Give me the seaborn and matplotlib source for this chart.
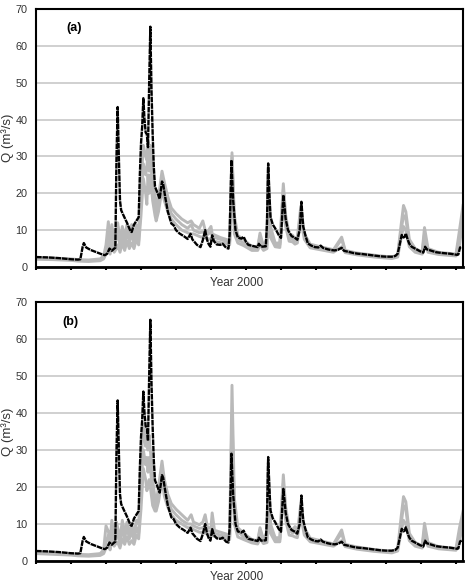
import pandas as pd
import seaborn as sns
import matplotlib.pyplot as plt
import numpy as np

# observed discharge (black), key days of year 2000
obs_days = [0, 10, 20, 30, 36, 38, 40, 41, 43, 47, 52, 56, 59, 61, 63, 65, 67, 68, 69, 70,
            71, 72, 73, 75, 78, 81, 82, 84, 86, 88, 89, 90, 91, 92, 93, 94, 95, 96, 97, 98,
            99, 100, 101, 102, 104, 106, 108, 109, 111, 113, 116, 118, 120, 123, 127, 130, 132.5, 134, 138, 141,
            143, 145, 146.5, 148, 149.5, 151, 152.5, 155, 158, 160, 163, 165, 166, 167.5, 169, 171, 173, 176, 178, 180,
            182, 186, 190, 191, 193, 197, 198, 199, 200, 201, 203, 205, 208, 210, 211, 212, 213, 214, 216, 219,
            222, 224, 226, 227.5, 229, 231, 233, 236, 239, 242, 244, 246, 250, 253, 256, 259, 262, 264, 268, 272,
            276, 280, 285, 290, 295, 300, 305, 308, 310, 312, 313.5, 315, 316, 317, 318.5, 320, 322, 326, 329, 332,
            333.5, 335, 338, 343, 348, 355, 361, 362, 363.5, 365]
obs_q = [2.7, 2.6, 2.4, 2.1, 2.0, 2.1, 5.5, 6.5, 5.3, 4.6, 4.0, 3.5, 3.2, 3.6, 5.0, 4.4, 5.0, 5.2, 30, 43.4,
         30, 18, 15.4, 14.0, 12, 9.7, 9.5, 11.5, 12.5, 13.5, 25, 33.5, 38, 45.8, 40, 36.5, 36, 32.5, 50, 65.2,
         48, 36, 27, 21.8, 20.2, 18.5, 23.2, 22.5, 18.5, 15, 11.8, 11.3, 10, 9.1, 8.3, 7.6, 9.0, 7.5, 6.0, 5.4,
         7.3, 10, 7.5, 6.2, 5.5, 8.6, 7, 6.1, 6.0, 6.3, 5.2, 5.0, 9, 29, 18, 10, 8, 7.7, 8.2, 6.8,
         6.0, 5.7, 5.4, 6.3, 5.5, 5.6, 12, 28.1, 20, 13.6, 11.5, 10.5, 8.7, 7.9, 14, 19.5, 16.5, 13, 10, 8.4,
         7.9, 7.4, 10, 17.7, 11, 8.5, 6.4, 5.8, 5.4, 5.3, 5.8, 5.2, 4.8, 4.6, 4.5, 4.7, 5.2, 4.4, 4.1, 3.8,
         3.6, 3.5, 3.3, 3.1, 2.9, 2.8, 2.8, 3.0, 3.6, 6.5, 8.7, 8.0, 8.2, 9.1, 7.5, 6.3, 5.5, 4.8, 4.3, 3.9,
         5.5, 4.8, 4.5, 4.0, 3.8, 3.6, 3.3, 3.4, 5.3, 5.5]

# simulated discharge (grey), three runs per panel
sim_days = [0, 15, 30, 36, 45, 55, 58, 60, 62, 63.5, 65, 67, 69, 70, 72, 74, 76, 78, 80, 82,
            84, 86, 88, 90, 92, 94, 95, 96, 97, 98, 100, 102, 103, 105, 108, 110, 113, 116, 120, 125,
            130, 133, 135, 140, 143, 145, 147, 150, 151, 153, 158, 163, 166, 168, 170, 173, 178, 185, 190, 192,
            195, 198, 199, 201, 205, 209, 212, 214, 217, 220, 222, 224, 227, 230, 235, 245, 255, 262, 265, 275,
            290, 305, 310, 313, 315, 317, 320, 325, 331, 333, 336, 345, 360, 363, 366]

sim_a1 = [2.3, 2.2, 2.0, 1.8, 1.7, 1.9, 2.6, 4.5, 8.5, 4.5, 9, 5, 8, 11, 5, 9, 6, 10, 6.5, 9.5,
          6, 10, 7, 18, 28, 25, 27, 31, 26, 30, 22, 18, 14, 17, 24, 21, 17, 14.5, 13, 11.5,
          10.5, 11.5, 10, 9.3, 9.5, 9, 8.8, 9.5, 8.5, 8, 7.5, 7, 6.8, 30, 12, 7.5, 6.5, 5.0, 4.9, 8.5,
          5, 6, 25, 10, 6.0, 6.0, 21, 13, 8, 7.5, 7, 7.2, 15, 8.5, 5.8, 5.0, 4.4, 7.5, 4.3, 3.6,
          3.0, 2.5, 3.0, 10, 14, 13, 6.5, 4.5, 3.8, 9, 4.5, 3.7, 3.2, 8, 15]
sim_a2 = [2.5, 2.4, 2.2, 2.0, 1.9, 2.2, 3.0, 6.0, 12.3, 6, 11.5, 6.5, 10, 12, 7, 11, 8, 11.5, 8, 11.5,
          7.5, 11.5, 9, 22, 33, 30, 29, 34, 30, 33, 26, 20, 16, 19, 26, 23, 19, 16, 14.5, 13,
          12, 12.5, 11.5, 10.5, 12.5, 10, 9.5, 11, 9, 8.7, 8, 7.5, 7.2, 31, 14, 8.5, 7.5, 5.5, 5.3, 9.2,
          5.5, 8, 27, 11, 6.5, 6.5, 22.6, 14, 9, 8.6, 7.5, 8, 16.5, 9, 6.2, 5.4, 4.7, 8.1, 4.5, 3.8,
          3.2, 2.7, 3.3, 11.5, 16.7, 15, 7.5, 5, 4.1, 10.7, 5, 4, 3.5, 10, 16.7]
sim_a3 = [2.1, 2.0, 1.8, 1.6, 1.5, 1.7, 2.2, 3.5, 5.5, 3.5, 6, 4, 5, 6, 4, 6.5, 4.5, 7, 5, 6.5,
          5, 7.5, 6, 14, 24, 20, 17, 25, 20, 25, 18, 14, 12.5, 15, 21, 18, 15, 13, 11.5, 10,
          9.3, 9, 9, 8.3, 8, 8, 7.7, 7.5, 7.3, 7, 6.6, 6.3, 6, 24, 9, 6.5, 5.8, 4.5, 4.5, 6,
          4.5, 5, 22, 8, 5.5, 5.3, 17, 11, 7, 6.8, 6.2, 6.5, 13, 7.5, 5.2, 4.6, 4.0, 5.5, 3.9, 3.3,
          2.7, 2.3, 2.7, 8, 11, 10, 5.5, 4, 3.5, 7, 4, 3.4, 3.0, 6, 13]

sim_b1 = [2.2, 2.0, 1.8, 1.6, 1.5, 1.8, 2.5, 5, 7, 4, 8.5, 5, 9, 7, 4.5, 9, 6, 9.5, 6, 8,
          5.5, 9, 7.5, 20, 30, 26, 28, 24, 28, 25, 19, 15, 14, 18, 25, 20, 16.5, 14, 12.5, 11,
          10, 10, 9.5, 8.8, 9, 9.5, 8.2, 8, 10, 7.5, 7.0, 6.7, 6.5, 40, 14, 8, 6.5, 5.3, 5.0, 8.5,
          5.2, 6, 24, 9, 5.8, 5.8, 21, 13, 8.5, 7.5, 8, 7, 14, 8, 5.8, 5.0, 4.3, 7.5, 4.2, 3.5,
          2.9, 2.4, 3.0, 10, 15, 14, 6.5, 4.5, 3.8, 8.5, 4.5, 3.6, 3.1, 7, 12]
sim_b2 = [2.4, 2.2, 2.0, 1.8, 1.7, 2.0, 3.0, 9.5, 8, 5.5, 11, 6, 10.5, 9, 6, 11, 7.5, 10.5, 7, 10,
          7, 11, 10, 26, 37, 31, 35, 30, 34, 30, 22, 17, 15.5, 20, 27, 22, 18, 15.5, 14, 12.5,
          11, 12.5, 10.5, 9.8, 10.5, 12.5, 9, 9, 13, 8.3, 7.8, 7.3, 7, 47.5, 17, 9, 7.5, 5.8, 5.5, 9,
          5.7, 8, 26.5, 10, 6.3, 6.3, 23.3, 14.5, 9, 8.5, 9.3, 7.5, 15.5, 9, 6.2, 5.4, 4.6, 8.4, 4.5, 3.8,
          3.1, 2.6, 3.3, 12, 17.4, 16, 7.5, 5, 4.1, 10.2, 5, 3.9, 3.4, 9, 13.4]
sim_b3 = [2.0, 1.8, 1.6, 1.4, 1.3, 1.5, 2.0, 3.5, 4.5, 3, 5.5, 4, 5, 5, 3.5, 6, 4.5, 6.5, 4.5, 5.5,
          4.5, 7, 6, 14, 25, 22, 19, 20, 22, 20, 15, 13.5, 13.5, 16, 22, 17.5, 14.5, 12.5, 11, 10,
          9, 9, 8.5, 7.8, 7.7, 7.5, 7.3, 7, 7, 6.6, 6.3, 6.0, 5.8, 30, 10, 6.5, 5.8, 4.9, 4.6, 6,
          4.7, 5, 20, 7.5, 5.2, 5.2, 18, 11, 7, 6.8, 6.5, 6.3, 12, 7, 5.2, 4.6, 4.0, 5.5, 3.9, 3.2,
          2.6, 2.2, 2.7, 8, 11, 10, 5.5, 4, 3.5, 6.5, 4, 3.3, 2.9, 5.5, 10]

panel_labels = ["(a)", "(b)"]
y_ticks = list(range(0, 71, 10))
x_ticks = list(range(0, 361, 30))

plt.rcParams["font.family"] = ["Liberation Sans", "DejaVu Sans"]

obs = pd.DataFrame({"day": obs_days, "Q": obs_q})


def sim_frame(runs):
    parts = []
    for k, vals in enumerate(runs):
        parts.append(pd.DataFrame({"day": sim_days, "Q": vals, "run": k}))
    return pd.concat(parts, ignore_index=True)


sims = [sim_frame([sim_a1, sim_a2, sim_a3]), sim_frame([sim_b1, sim_b2, sim_b3])]

fig = plt.figure(figsize=(4.69, 5.87), dpi=100)
boxes = [[36/469, 1-267/587, 427/469, 258/587], [36/469, 1-561/587, 427/469, 259/587]]
label_pos = [(0.07, 0.926), (0.062, 0.923)]
year_y = [1-283/587, 1-577/587]

for i in range(2):
    ax = fig.add_axes(boxes[i])
    ax.grid(axis="y", color="#c8c8c8", linewidth=1.2)
    ax.set_axisbelow(True)
    sns.lineplot(data=sims[i], x="day", y="Q", units="run", estimator=None,
                 color="#b9b9b9", linewidth=2.1, ax=ax, legend=False)
    sns.lineplot(data=obs, x="day", y="Q", color="black", linewidth=1.7, ax=ax, legend=False)
    ax.lines[-1].set_linestyle((0, (2.4, 0.35)))

    ax.set_xlim(0, 366)
    ax.set_ylim(0, 70)
    ax.set_xticks(x_ticks)
    ax.set_xticklabels([])
    ax.set_yticks(y_ticks)
    ax.tick_params(axis="x", direction="out", length=2.5, width=1.5, color="black")
    ax.tick_params(axis="y", length=0, pad=6, labelsize=7.8, labelcolor="#333333")
    for s in ax.spines.values():
        s.set_color("black")
        s.set_linewidth(1.5)
    ax.spines["bottom"].set_linewidth(2)
    ax.set_xlabel("")
    ax.set_ylabel("")
    ax.text(label_pos[i][0], label_pos[i][1], panel_labels[i], transform=ax.transAxes,
            fontsize=9, fontweight="bold", va="center", ha="left")
    fig.text(236.5/469, year_y[i], "Year 2000", ha="center", va="center",
             fontsize=8.5, color="#333333")
    cy = boxes[i][1] + boxes[i][3] * 0.5
    fig.text(8/469, cy, "Q (m³/s)", rotation=90, ha="center", va="center",
             fontsize=9.5, color="#333333")

fig.savefig("out.png", dpi=100)
